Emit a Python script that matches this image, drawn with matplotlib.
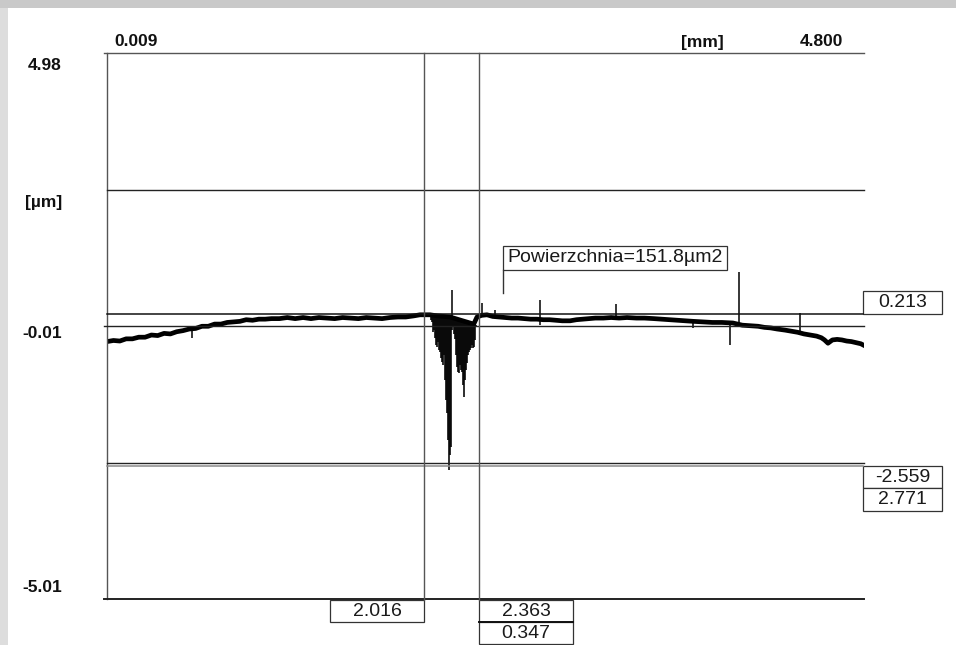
from __future__ import annotations

import matplotlib

matplotlib.use("Agg")
import matplotlib.pyplot as plt
from matplotlib.lines import Line2D
from matplotlib.patches import Rectangle

W, H = 956, 645

x_range = (0.009, 4.800)
y_range = (-5.01, 4.98)
grid_y = [2.4825, -0.015, -2.5125]

# profile centre line, mm / µm
profile_x = [0.009, 0.05, 0.09, 0.13, 0.17, 0.21, 0.25, 0.29, 0.33, 0.37,
             0.41, 0.45, 0.49, 0.53, 0.57, 0.61, 0.65, 0.69, 0.73, 0.77,
             0.81, 0.85, 0.89, 0.93, 0.97, 1.01, 1.05, 1.10, 1.15, 1.20,
             1.25, 1.30, 1.35, 1.40, 1.45, 1.50, 1.55, 1.60, 1.65, 1.70,
             1.75, 1.80, 1.85, 1.90, 1.95, 1.99, 2.053, 2.10, 2.18, 2.26,
             2.33, 2.351, 2.38, 2.414, 2.45, 2.49, 2.53, 2.57, 2.61, 2.65,
             2.69, 2.73, 2.77, 2.81, 2.85, 2.89, 2.94, 2.98, 3.02, 3.06,
             3.10, 3.15, 3.20, 3.25, 3.30, 3.36, 3.41, 3.47, 3.52, 3.57,
             3.62, 3.67, 3.72, 3.78, 3.84, 3.90, 3.97, 4.03, 4.08, 4.13,
             4.17, 4.21, 4.25, 4.30, 4.34, 4.38, 4.42, 4.46, 4.50, 4.53,
             4.55, 4.572, 4.60, 4.63, 4.66, 4.69, 4.72, 4.75, 4.78, 4.800]
profile_y = [-0.30, -0.28, -0.29, -0.25, -0.25, -0.22, -0.22, -0.18, -0.19, -0.15,
             -0.16, -0.12, -0.10, -0.07, -0.06, -0.02, -0.02, 0.02, 0.02, 0.05,
             0.06, 0.07, 0.10, 0.09, 0.11, 0.11, 0.12, 0.12, 0.14, 0.12,
             0.14, 0.12, 0.14, 0.13, 0.12, 0.14, 0.13, 0.12, 0.14, 0.13,
             0.12, 0.14, 0.15, 0.15, 0.17, 0.19, 0.19, 0.17, 0.15, 0.08,
             0.02, 0.15, 0.18, 0.19, 0.16, 0.15, 0.14, 0.13, 0.13, 0.12,
             0.11, 0.11, 0.10, 0.10, 0.09, 0.08, 0.08, 0.10, 0.11, 0.12,
             0.13, 0.13, 0.14, 0.13, 0.14, 0.13, 0.13, 0.12, 0.11, 0.10,
             0.09, 0.08, 0.07, 0.06, 0.05, 0.05, 0.04, 0.00, -0.01, -0.02,
             -0.04, -0.05, -0.07, -0.09, -0.11, -0.13, -0.16, -0.18, -0.20, -0.23,
             -0.27, -0.33, -0.27, -0.26, -0.27, -0.29, -0.30, -0.32, -0.34, -0.37]

# single narrow spikes
spike_x = [0.547, 2.193, 2.382, 2.465, 2.750, 3.231, 3.718, 3.952, 4.009, 4.395]
spike_lo = [-0.24, 0.10, 0.15, 0.15, 0.00, 0.10, -0.05, -0.36, 0.00, -0.13]
spike_hi = [-0.05, 0.64, 0.41, 0.28, 0.46, 0.39, 0.10, 0.04, 0.97, 0.22]

# defect between the x cursors, one column per pixel
dip_x = [2.060, 2.066, 2.072, 2.079, 2.085, 2.091, 2.098, 2.104, 2.110, 2.117, 2.123, 2.129,
         2.136, 2.142, 2.148, 2.155, 2.161, 2.167, 2.174, 2.180, 2.186, 2.193, 2.199, 2.205,
         2.212, 2.218, 2.224, 2.231, 2.237, 2.243, 2.250, 2.256, 2.262, 2.269, 2.275, 2.281,
         2.288, 2.294, 2.300, 2.307, 2.313, 2.319, 2.326, 2.332, 2.338, 2.345, 2.351]
dip_lo = [0.09, 0.06, -0.13, -0.09, -0.24, -0.36, -0.40, -0.31, -0.45, -0.49, -0.60, -0.67,
          -0.73, -0.55, -1.00, -1.37, -1.61, -2.10, -2.65, -2.38, -2.23, -0.09, -0.03, -0.17,
          -0.26, -0.55, -0.77, -0.86, -0.88, -0.73, -0.82, -0.86, -1.09, -1.31, -1.00, -0.82,
          -0.69, -0.55, -0.49, -0.45, -0.42, -0.36, -0.42, -0.40, -0.27, -0.03, 0.13]
dip_hi = [0.19, 0.19, 0.19, 0.18, 0.18, 0.17, 0.17, 0.17, 0.16, 0.16, 0.15, 0.15,
          0.15, 0.15, 0.14, 0.14, 0.14, 0.14, 0.14, 0.13, 0.13, 0.13, 0.13, 0.12,
          0.12, 0.11, 0.11, 0.10, 0.10, 0.09, 0.08, 0.08, 0.07, 0.07, 0.06, 0.06,
          0.05, 0.04, 0.04, 0.03, 0.03, 0.02, 0.02, 0.01, 0.01, 0.00, 0.15]

cursor_x = [2.016, 2.363]
cursor_y = [0.213, -2.559]
cursor_x_labels = ["2.016", "2.363", "0.347"]
cursor_y_labels = ["0.213", "-2.559", "2.771"]
top_labels = ["0.009", "[mm]", "4.800"]
left_labels = ["4.98", "[µm]", "-0.01", "-5.01"]
area_text = "Powierzchnia=151.8µm2"

BOLD = {"family": "Liberation Sans", "weight": "bold", "size": 12.5, "color": "#111111"}
PLAIN = {"family": "Liberation Sans", "size": 14, "color": "#1a1a1a"}


def fxy(px: float, py: float) -> tuple[float, float]:
    return px / W, 1 - py / H


def pline(fig, x0, y0, x1, y1, color="#333333", lw=1.0) -> None:
    (a, b), (c, d) = fxy(x0, y0), fxy(x1, y1)
    fig.add_artist(Line2D([a, c], [b, d], transform=fig.transFigure, color=color, lw=lw))


def pbox(fig, x0, y0, x1, y1, text) -> None:
    a, b = fxy(x0, y1)
    fig.add_artist(Rectangle((a, b), (x1 - x0) / W, (y1 - y0) / H, transform=fig.transFigure,
                             facecolor="white", edgecolor="#333333", lw=0.9))
    cx, cy = fxy((x0 + x1) / 2, (y0 + y1) / 2)
    fig.text(cx, cy, text, ha="center", va="center", **PLAIN)


def ptext(fig, px, py, text, ha) -> None:
    x, y = fxy(px, py)
    fig.text(x, y, text, ha=ha, va="center", **BOLD)


def main() -> None:
    fig = plt.figure(figsize=(W / 100, H / 100), dpi=100)
    fig.patch.set_facecolor("white")
    fig.add_artist(Rectangle((0, 1 - 8 / H), 1, 8 / H, transform=fig.transFigure,
                             facecolor="#c9c9c9", edgecolor="none"))
    fig.add_artist(Rectangle((0, 0), 8 / W, 1 - 8 / H, transform=fig.transFigure,
                             facecolor="#dddddd", edgecolor="none"))

    ax = fig.add_axes([107 / W, 1 - 599 / H, 757 / W, 546 / H])
    ax.set_xlim(*x_range)
    ax.set_ylim(*y_range)
    ax.axis("off")

    def to_px(x: float, y: float) -> tuple[float, float]:
        dx, dy = ax.transData.transform((x, y))
        return dx, H - dy

    # frame and grid
    pline(fig, 107, 53, 107, 599, color="#555555", lw=1.0)
    pline(fig, 104, 53, 864, 53, color="#555555", lw=1.0)
    pline(fig, 104, 599, 864, 599, color="#222222", lw=1.4)
    for i, gy in enumerate(grid_y):
        py = to_px(0, gy)[1]
        pline(fig, 104 if i == 1 else 107, py, 864, py, color="#222222", lw=1.0)

    # cursors
    cx1, cx2 = (to_px(v, 0)[0] for v in cursor_x)
    cy1, cy2 = (to_px(0, v)[1] for v in cursor_y)
    pline(fig, 107, cy1, 863, cy1, color="#111111", lw=1.1)
    pline(fig, 107, cy2 + 1, 863, cy2 + 1, color="#8a8a8a", lw=1.1)
    for cx in (cx1, cx2):
        pline(fig, cx, 53, cx, 600, color="#555555", lw=1.0)

    # profile
    ax.plot(profile_x, profile_y, color="black", lw=3.4, solid_joinstyle="round")
    ax.vlines(spike_x, spike_lo, spike_hi, color="black", lw=1.1)
    ax.vlines(dip_x, dip_lo, dip_hi, color="black", lw=1.15)

    # readout boxes
    pbox(fig, cx1 - 94, 600, cx1, 622, cursor_x_labels[0])
    pbox(fig, cx2, 600, cx2 + 94, 622, cursor_x_labels[1])
    pbox(fig, cx2, 622, cx2 + 94, 644, cursor_x_labels[2])
    pline(fig, cx2, 622, cx2 + 94, 622, color="#111111", lw=1.4)
    pbox(fig, 863, cy1 - 23, 942, cy1, cursor_y_labels[0])
    pbox(fig, 863, cy2 + 1, 942, cy2 + 23, cursor_y_labels[1])
    pbox(fig, 863, cy2 + 23, 942, cy2 + 46, cursor_y_labels[2])

    pbox(fig, 503, 246, 727, 270, area_text)
    pline(fig, 503, 270, 503, 293, color="#333333", lw=1.0)

    # axis texts
    ptext(fig, 114, 42, top_labels[0], "left")
    ptext(fig, 702, 42, top_labels[1], "center")
    ptext(fig, 843, 42, top_labels[2], "right")
    for py, label in zip([65, 203, 334, 587], left_labels):
        ptext(fig, 62, py, label, "right")

    fig.savefig("out.png", dpi=100)
    plt.close(fig)


if __name__ == "__main__":
    main()
